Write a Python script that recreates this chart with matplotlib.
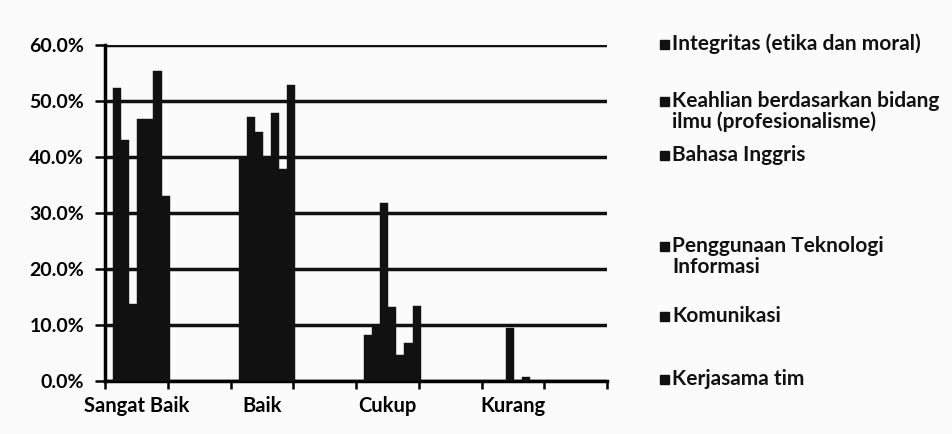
import matplotlib.pyplot as plt
import numpy as np
from matplotlib.patches import Rectangle
from matplotlib.ticker import FuncFormatter

plt.rcParams['font.family'] = ['Lato', 'DejaVu Sans']
plt.rcParams['font.weight'] = 'bold'

categories = ["Sangat Baik", "Baik", "Cukup", "Kurang"]

# percent per category, one list per series (7th series legend entry is cut off in the source)
integritas = [52.4, 39.7, 8.2, 0.0]
keahlian = [43.0, 47.1, 9.7, 0.0]
bahasa_inggris = [13.8, 44.4, 31.8, 9.5]
teknologi_informasi = [46.7, 40.0, 13.3, 0.0]
komunikasi = [46.7, 47.8, 4.6, 0.8]
kerjasama_tim = [55.4, 37.9, 6.7, 0.0]
seri_7 = [33.1, 52.8, 13.4, 0.0]

series = [integritas, keahlian, bahasa_inggris, teknologi_informasi,
          komunikasi, kerjasama_tim, seri_7]
legend_labels = ["Integritas (etika dan moral)",
                 "Keahlian berdasarkan bidang\nilmu (profesionalisme)",
                 "Bahasa Inggris",
                 "Penggunaan Teknologi\nInformasi",
                 "Komunikasi",
                 "Kerjasama tim"]
y_ticks = [0, 10, 20, 30, 40, 50, 60]

W, H = 952, 434
fig = plt.figure(figsize=(W / 100, H / 100), dpi=100)
fig.patch.set_facecolor("#fbfbfb")
ax = fig.add_axes([105 / W, 1 - 381 / H, (607 - 105) / W, (381 - 45) / H])
ax.set_facecolor("#fbfbfb")

n = len(series)
group_w = 0.9
bw = group_w / n
centers = np.arange(len(categories)) * 2 + 0.58
for i, vals in enumerate(series):
    x = centers - group_w / 2 + bw * (i + 0.5)
    ax.bar(x, vals, width=bw, color="#111111", edgecolor="#111111",
           linewidth=0.3, zorder=3)

ax.set_xlim(0, 8)
ax.set_ylim(0, 60)
ax.set_yticks(y_ticks)
ax.yaxis.set_major_formatter(FuncFormatter(lambda v, p: f"{v:.1f}%"))
ax.yaxis.grid(True, color="#111111", linewidth=2.5, zorder=1)
ax.set_axisbelow(True)

ax.set_xticks(np.arange(len(categories)) * 2 + 0.5)
ax.set_xticklabels(categories)
ax.set_xticks(np.arange(0, 9), minor=True)
ax.tick_params(axis="x", which="major", length=0, pad=11, labelsize=14.5)
ax.tick_params(axis="x", which="minor", length=6, width=1.8, direction="out")
ax.tick_params(axis="y", length=7, width=1.8, direction="out", labelsize=14, pad=8)

for s in ["top", "right"]:
    ax.spines[s].set_visible(False)
ax.spines["left"].set_linewidth(2.5)
ax.spines["bottom"].set_linewidth(2.5)

# legend, laid out like the Excel original
legend_y = [44, 101, 155, 246, 316, 379]
for lab, yy in zip(legend_labels, legend_y):
    fig.patches.append(Rectangle((660 / W, 1 - (yy + 5) / H), 9 / W, 9 / H,
                                 transform=fig.transFigure, color="#111111"))
    for j, line in enumerate(lab.split("\n")):
        fig.text(672 / W, 1 - (yy + 21 * j) / H, line, fontsize=15,
                 fontweight="bold", va="center", ha="left", color="#111111")

fig.savefig("out.png", dpi=100, facecolor=fig.get_facecolor())
